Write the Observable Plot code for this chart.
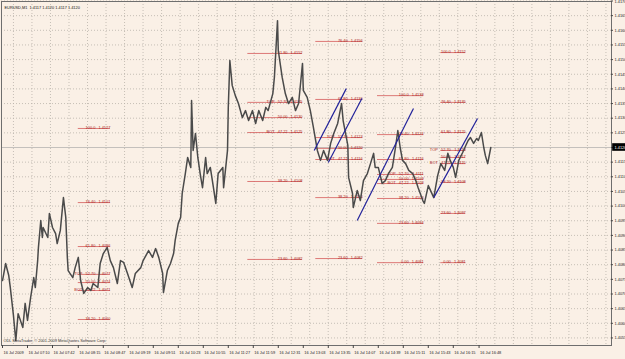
<!DOCTYPE html>
<html><head><meta charset="utf-8">
<script src="https://cdn.jsdelivr.net/npm/d3@7"></script>
<script src="https://cdn.jsdelivr.net/npm/@observablehq/plot@0.6"></script>
<style>
html,body{margin:0;padding:0;background:#FAF0E6;}
#chart{width:625px;height:359px;overflow:hidden;}
</style></head><body><div id="chart"></div>
<script>
// ---- data ----
const header = "EURUSD,M1  1.4117 1.4120 1.4117 1.4120";
const copyright = "ODL MetaTrader, \u00a9 2001-2009 MetaQuotes Software Corp.";
// minutes after 06:38 and their labels
const timeTicks = [0, 32, 64, 97, 129, 161, 193, 225, 257, 289, 321, 353, 385, 417, 449, 481, 513, 545, 577, 610];
const timeLabels = ["16 Jul 2009","16 Jul 07:10","16 Jul 07:42","16 Jul 08:15","16 Jul 08:47","16 Jul 09:19","16 Jul 09:51","16 Jul 10:23","16 Jul 10:55","16 Jul 11:27","16 Jul 11:59","16 Jul 12:31","16 Jul 13:03","16 Jul 13:35","16 Jul 14:07","16 Jul 14:39","16 Jul 15:11","16 Jul 15:43","16 Jul 16:15","16 Jul 16:48"];
const priceTicks = [1.4055,1.4060,1.4065,1.4070,1.4075,1.4080,1.4085,1.4090,1.4095,1.4100,1.4105,1.4110,1.4115,1.4120,1.4125,1.4130,1.4135,1.4140,1.4145,1.4150,1.4155,1.4160,1.4165,1.4170];
const lastPrice = 1.4120;

const barTime = [
  0,4,8,10,14,17,20,26,29,32,
  36,40,42,45,46,49,51,52,58,60,
  64,68,70,74,78,81,83,84,90,93,
  97,100,104,109,113,116,122,125,129,134,
  138,142,147,151,155,160,166,170,177,180,
  187,192,196,200,205,206,211,215,219,221,
  225,228,230,234,237,241,242,244,247,250,
  253,256,260,262,266,270,273,276,282,283,
  288,289,291,294,298,302,307,311,315,320,
  324,328,333,337,340,346,348,352,353,358,
  362,366,371,375,379,384,385,390,394,398,
  403,407,411,416,420,424,429,434,436,442,
  443,448,449,454,458,462,467,471,475,477,
  481,486,490,494,499,503,506,509,512,516,
  520,525,529,532,538,540,545,552,557,561,
  566,570,573,577,580,584,589,593,596,599,
  603,607,609,613,616,618,621,625];
const barClose = [
  1.40746,1.40804,1.40763,1.40722,1.40627,1.40541,1.40633,1.40586,1.40668,1.40610,
  1.40688,1.40756,1.40722,1.40814,1.40859,1.40951,1.40893,1.40927,1.40893,1.40975,
  1.40927,1.40906,1.40872,1.40917,1.41029,1.40961,1.40825,1.40780,1.40756,1.40790,
  1.40825,1.40746,1.40702,1.40722,1.40712,1.40736,1.40722,1.40804,1.40838,1.40859,
  1.40814,1.40790,1.40736,1.40814,1.40808,1.40770,1.40722,1.40770,1.40790,1.40814,
  1.40848,1.40825,1.40855,1.40825,1.40770,1.40705,1.40780,1.40804,1.40838,1.40883,
  1.40941,1.40961,1.41043,1.41111,1.41166,1.41132,1.41360,1.41190,1.41248,1.41166,
  1.41111,1.41063,1.41166,1.41111,1.41132,1.41063,1.41009,1.41111,1.41132,1.41063,
  1.41190,1.41337,1.41497,1.41412,1.41377,1.41350,1.41302,1.41326,1.41292,1.41326,
  1.41282,1.41326,1.41292,1.41337,1.41326,1.41384,1.41439,1.41633,1.41531,1.41439,
  1.41384,1.41350,1.41371,1.41326,1.41350,1.41487,1.41395,1.41371,1.41326,1.41268,
  1.41190,1.41156,1.41190,1.41156,1.41214,1.41248,1.41282,1.41350,1.41292,1.41207,
  1.41098,1.41043,1.40995,1.41053,1.41019,1.41087,1.41111,1.41145,1.41180,1.41132,
  1.41132,1.41077,1.41087,1.41111,1.41132,1.41200,1.41258,1.41200,1.41156,1.41145,
  1.41122,1.41111,1.41087,1.41063,1.41019,1.41009,1.41070,1.41029,1.41104,1.41145,
  1.41122,1.41180,1.41156,1.41132,1.41098,1.41156,1.41183,1.41207,1.41224,1.41234,
  1.41214,1.41231,1.41224,1.41251,1.41200,1.41173,1.41145,1.41200];

// Fibonacci retracement objects
const fibStart = [97,97,97,97,97,97,97, 314,314,314,314,314,314, 401,401,401,401,401,401,401, 480,480,480,480,480,480,480,480,480, 561,561,561,561,561,561,561,561,561];
const fibEnd   = [138,138,138,138,138,138,138, 384,384,384,384,384,384, 461,461,461,461,461,461,461, 539,539,539,539,539,539,539,539,539, 593,593,593,593,593,593,593,593,593];
const fibPrice = [1.41265,1.41012,1.40862,1.40767,1.40739,1.40712,1.40613,
  1.41521,1.41354,1.41302,1.41251,1.41084,1.40818,
  1.41562,1.41364,1.41234,1.41197,1.41159,1.41029,1.40821,
  1.41377,1.41244,1.41159,1.41108,1.41091,1.41077,1.41026,1.40941,1.40807,
  1.41524,1.41354,1.41251,1.41190,1.41166,1.41145,1.41081,1.40975,1.40807];
const fibLevel = ["100.0","76.40","61.80","52.70","50.00","47.22","38.20",
  "61.80","52.70","50.00","47.22","38.20","23.60",
  "76.40","61.80","52.70","50.00","47.22","38.20","23.60",
  "100.0","76.40","61.80","52.70","50.00","47.22","38.20","23.60","0.00",
  "100.0","76.40","61.80","52.70","50.00","47.22","38.20","23.60","0.00"];
const fibTag = ["","","","TOP","","BOT","",
  "","TOP","","BOT","","",
  "","","TOP","","BOT","","",
  "","","","TOP","","BOT","","","",
  "","","","TOP","","BOT","","",""];
const fibLabel = ["1.4127","1.4101","1.4086","1.4077","1.4074","1.4071","1.4060",
  "1.4152","1.4135","1.4130","1.4125","1.4108","1.4082",
  "1.4156","1.4136","1.4123","1.4120","1.4116","1.4103","1.4082",
  "1.4138","1.4124","1.4116","1.4111","1.4109","1.4108","1.4103","1.4094","1.4081",
  "1.4152","1.4135","1.4125","1.4119","1.4117","1.4115","1.4108","1.4097","1.4081"];

// trend channel lines
const chT1 = [399, 417, 454, 552];
const chP1 = [1.41190, 1.41149, 1.40951, 1.41029];
const chT2 = [440, 460, 526, 608];
const chP2 = [1.41401, 1.41367, 1.41333, 1.41299];

// ---- build ----
const bars = barTime.map((t, i) => ({t, p: barClose[i]}));
const fibs = fibStart.map((t1, i) => ({t1, t2: fibEnd[i], p: fibPrice[i], level: fibLevel[i], tag: fibTag[i], label: fibLabel[i]}));
const channels = chT1.map((t1, i) => ({t1, p1: chP1[i], t2: chT2[i], p2: chP2[i]}));
const ticks = timeTicks.map((t, i) => ({t, label: timeLabels[i]}));

const pxPerUnit = 29300;           // pixels per 1.0 of price
const yTop = lastPrice + 146 / pxPerUnit;
const yBot = lastPrice - 198 / pxPerUnit;
const xMin = -1.28, xMax = 779.5;
const fs = 3.9;
const font = "Liberation Sans, Arial, sans-serif";
const topTick = priceTicks[priceTicks.length - 1];

const chart = Plot.plot({
  width: 625, height: 359,
  marginLeft: 1, marginRight: 14, marginTop: 1, marginBottom: 14,
  x: {domain: [xMin, xMax], axis: null},
  y: {domain: [yBot, yTop], axis: null},
  style: {background: "#FAF0E6", fontFamily: font, overflow: "visible"},
  marks: [
    Plot.ruleY(priceTicks, {stroke: "#b9b2aa", strokeDasharray: "1,2", strokeWidth: 0.8}),
    Plot.ruleX(d3.range(14, xMax, 23.7), {stroke: "#b9b2aa", strokeDasharray: "1,2", strokeWidth: 0.8}),
    Plot.ruleY([lastPrice], {stroke: "#c4c0bc", strokeWidth: 1}),
    Plot.ruleY(fibs, {y: "p", x1: "t1", x2: "t2", stroke: "#d45a5a", strokeWidth: 0.8}),
    Plot.text(fibs, {x: "t2", y: "p", text: "label", textAnchor: "end", lineAnchor: "bottom", dy: 0.6, fontSize: fs, fill: "#a81c1c"}),
    Plot.text(fibs, {x: "t2", y: "p", text: "level", dx: -15, textAnchor: "end", lineAnchor: "bottom", dy: 0.6, fontSize: fs, fill: "#a81c1c"}),
    Plot.text(fibs.filter(d => d.tag), {x: "t2", y: "p", text: "tag", dx: -28, textAnchor: "end", lineAnchor: "bottom", dy: 0.6, fontSize: fs, fill: "#a81c1c"}),
    Plot.line(bars, {x: "t", y: "p", stroke: "#4a4a4a", strokeWidth: 1.5}),
    Plot.link(channels, {x1: "t1", y1: "p1", x2: "t2", y2: "p2", stroke: "#22229a", strokeWidth: 1.2}),
    Plot.frame({stroke: "#6e6e6e"}),
    // right price axis
    Plot.ruleY(priceTicks, {x1: xMax, x2: xMax + 2.5, stroke: "#444"}),
    Plot.text(priceTicks.filter(p => Math.abs(p - lastPrice) > 1e-9 && p !== topTick), {x: xMax, y: d => d, text: d => d.toFixed(4), dx: 3, textAnchor: "start", fontSize: fs, fill: "#222"}),
    Plot.text([topTick], {x: xMax, y: d => d, text: d => d.toFixed(4), dx: 3, dy: 1.2, textAnchor: "start", fontSize: fs, fill: "#222"}),
    Plot.rect([lastPrice], {x1: xMax + 1.5, x2: xMax + 19, y1: d => d - 0.00013, y2: d => d + 0.00013, fill: "#000"}),
    Plot.text([lastPrice], {x: xMax, y: d => d, text: d => d.toFixed(4), dx: 3, textAnchor: "start", fontSize: fs, fill: "#fff"}),
    // bottom time axis
    Plot.ruleX(ticks, {x: "t", y1: yBot, y2: yBot - 3 / pxPerUnit, stroke: "#444"}),
    Plot.text(ticks, {x: "t", y: yBot, text: "label", dx: 1, dy: 7, textAnchor: "start", fontSize: fs, fill: "#222"}),
    // texts
    Plot.text([header], {frameAnchor: "top-left", dx: 3, dy: 5, textAnchor: "start", fontSize: fs, fill: "#111"}),
    Plot.text([copyright], {frameAnchor: "bottom-left", dx: 2, dy: -4, textAnchor: "start", fontSize: fs, fill: "#333"})
  ]
});
document.getElementById("chart").appendChild(chart);
</script>
</body></html>
